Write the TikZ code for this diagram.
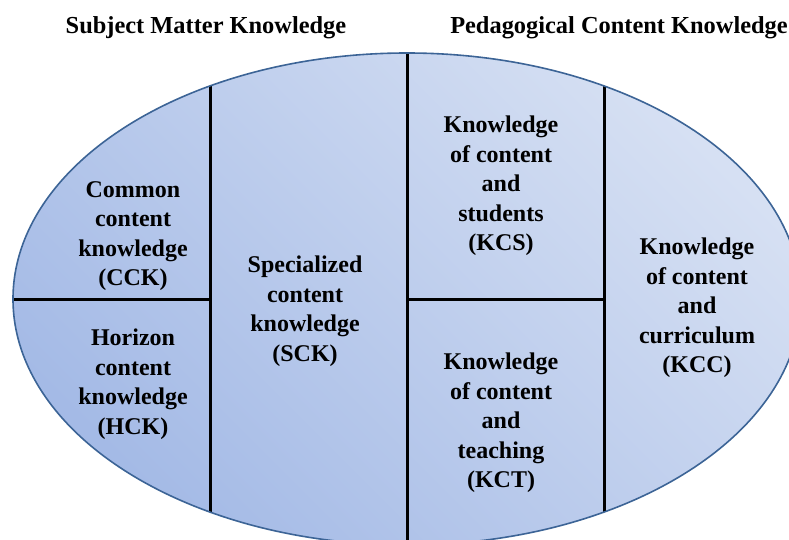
\documentclass[tikz,border=0pt]{standalone}
\usepackage{fontspec}
\setmainfont{Liberation Serif}
\definecolor{shlight}{RGB}{214,224,243}
\definecolor{shdark}{RGB}{164,186,230}
\definecolor{edgeblue}{RGB}{60,100,150}
\begin{document}
\begin{tikzpicture}[x=1pt,y=-1pt,
  lbl/.style={align=center,font=\fontsize{24}{29.5}\selectfont\bfseries,inner sep=0pt},
  ttl/.style={font=\fontsize{24.4}{28}\selectfont\bfseries,inner sep=0pt},
  divider/.style={line width=3pt,black}]
\useasboundingbox[clip] (0,0) rectangle (789,540);
\path[top color=shlight,bottom color=shdark,shading angle=-45] (407,299) ellipse [x radius=394,y radius=246];
\begin{scope}
\clip (407,299) ellipse [x radius=394,y radius=246];
\draw[divider] (210,40) -- (210,560);
\draw[divider] (407,40) -- (407,560);
\draw[divider] (604,40) -- (604,560);
\draw[divider] (0,299) -- (210,299);
\draw[divider] (407,299) -- (604,299);
\end{scope}
\draw[edgeblue,line width=1.6pt] (407,299) ellipse [x radius=394,y radius=246];
\node[ttl] (smk) at (206,28) {Subject Matter Knowledge};
\node[ttl] (pck) at (619,28) {Pedagogical Content Knowledge};
\node[lbl] (cck) at (133,236) {Common\\content\\knowledge\\(CCK)};
\node[lbl] (hck) at (133,384) {Horizon\\content\\knowledge\\(HCK)};
\node[lbl] (sck) at (305,311) {Specialized\\content\\knowledge\\(SCK)};
\node[lbl] (kcs) at (501,186) {Knowledge\\of content\\and\\students\\(KCS)};
\node[lbl] (kct) at (501,423) {Knowledge\\of content\\and\\teaching\\(KCT)};
\node[lbl] (kcc) at (697,308) {Knowledge\\of content\\and\\curriculum\\(KCC)};
\end{tikzpicture}
\end{document}
